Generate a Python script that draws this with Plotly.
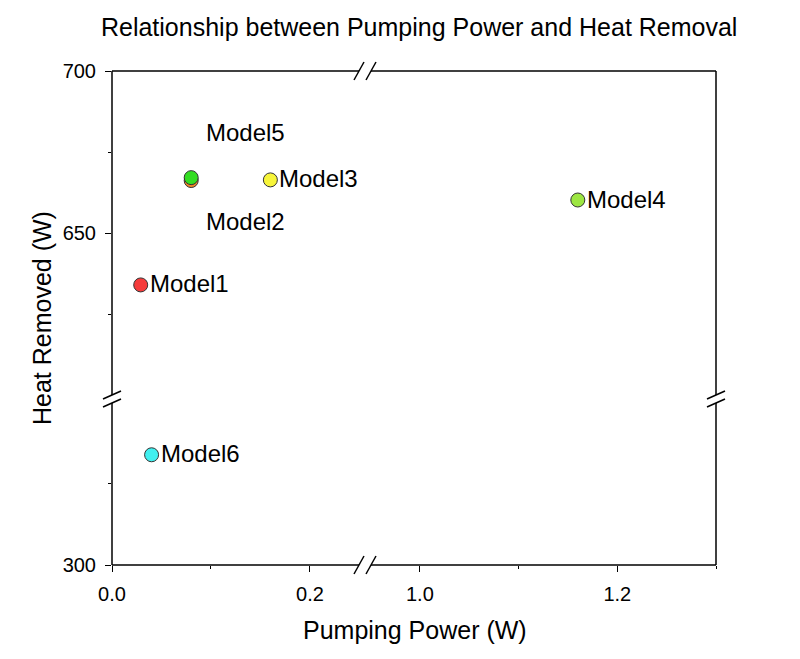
import plotly.graph_objects as go

# ---- data ----
models = ["Model1", "Model2", "Model3", "Model4", "Model5", "Model6"]
pumping_power = [0.029, 0.080, 0.160, 1.160, 0.080, 0.040]
heat_removed = [634.0, 666.2, 666.4, 660.2, 667.1, 334.0]
colors = ["#f53b3b", "#f0862a", "#f7f53a", "#9de642", "#33dd22", "#40f0f0"]
label_pos = ["right", "below", "right", "right", "above", "right"]

# broken-axis ranges
x_left_range = [0.0, 0.2556]
x_right_range = [0.9444, 1.3]
y_low_range = [300.0, 351.2]
y_high_range = [598.8, 700.0]

PLOT_L, PLOT_R, PLOT_T, PLOT_B = 112, 716, 71, 565
W, H = 800, 659
pw, ph = PLOT_R - PLOT_L, PLOT_B - PLOT_T
xb = (365 - PLOT_L) / pw   # x break (paper)
yb = (PLOT_B - 399) / ph   # y break (paper)

FONT = "Liberation Sans, Arial"
fig = go.Figure()

for i in [1, 0, 2, 3, 4, 5]:
    xa = "x2" if pumping_power[i] > 0.5 else "x"
    ya = "y" if heat_removed[i] < 500 else "y2"
    fig.add_trace(go.Scatter(
        x=[pumping_power[i]], y=[heat_removed[i]], xaxis=xa, yaxis=ya,
        mode="markers", showlegend=False,
        marker=dict(size=14, color=colors[i], line=dict(color="#333333", width=1)),
    ))
    if label_pos[i] == "right":
        fig.add_annotation(x=pumping_power[i], y=heat_removed[i], xref=xa, yref=ya,
                           text=models[i], showarrow=False, xanchor="left",
                           xshift=7, yshift=1, font=dict(size=24, color="black", family=FONT))
    else:
        ys = 45 if label_pos[i] == "above" else -41
        fig.add_annotation(x=pumping_power[i], y=heat_removed[i], xref=xa, yref=ya,
                           text=models[i], showarrow=False, xanchor="center",
                           xshift=54, yshift=ys, font=dict(size=24, color="black", family=FONT))

tickfont = dict(size=20, color="black", family=FONT)
common = dict(showline=False, zeroline=False, showgrid=False, ticks="outside",
              ticklen=6, tickwidth=1.2, tickcolor="black", tickfont=tickfont,
              ticklabelstandoff=5)

fig.update_layout(
    width=W, height=H,
    margin=dict(l=PLOT_L, r=W - PLOT_R, t=PLOT_T, b=H - PLOT_B),
    paper_bgcolor="white", plot_bgcolor="white",
    font=dict(family=FONT, color="black"),
    title=dict(text="Relationship between Pumping Power and Heat Removal",
               x=0.524, xref="container", xanchor="center",
               y=1 - 27 / H, yref="container", yanchor="middle",
               font=dict(size=25, color="black", family=FONT)),
    xaxis=dict(domain=[0, xb], range=x_left_range, anchor="y",
               tickvals=[0.0, 0.2], ticktext=["0.0", "0.2"],
               minor=dict(tickvals=[0.1], ticks="outside", ticklen=3, tickcolor="black"),
               **common),
    xaxis2=dict(domain=[xb, 1], range=x_right_range, anchor="y",
                tickvals=[1.0, 1.2], ticktext=["1.0", "1.2"],
                minor=dict(tickvals=[1.1, 1.3], ticks="outside", ticklen=3, tickcolor="black"),
                **common),
    yaxis=dict(domain=[0, yb], range=y_low_range, anchor="x",
               tickvals=[300], ticktext=["300"],
               minor=dict(tickvals=[325], ticks="outside", ticklen=3, tickcolor="black"),
               **common),
    yaxis2=dict(domain=[yb, 1], range=y_high_range, anchor="x",
                tickvals=[650, 700], ticktext=["650", "700"],
                minor=dict(tickvals=[625, 675], ticks="outside", ticklen=3, tickcolor="black"),
                **common),
)

# axis titles
fig.add_annotation(text="Pumping Power (W)", xref="paper", yref="paper",
                   x=(415 - PLOT_L) / pw, y=-(630 - PLOT_B) / ph,
                   showarrow=False, xanchor="center", yanchor="middle",
                   font=dict(size=25, color="black", family=FONT))
fig.add_annotation(text="Heat Removed (W)", xref="paper", yref="paper",
                   x=-(PLOT_L - 42) / pw, y=(PLOT_B - 318) / ph, textangle=-90,
                   showarrow=False, xanchor="center", yanchor="middle",
                   font=dict(size=25, color="black", family=FONT))

# frame with breaks
gx = 6 / pw
gy = 4 / ph
lw = 1.5
shapes = []
def seg(x0, y0, x1, y1):
    shapes.append(dict(type="line", xref="paper", yref="paper",
                       x0=x0, y0=y0, x1=x1, y1=y1,
                       line=dict(color="black", width=lw)))
# bottom & top
for yy in (0, 1):
    seg(0, yy, xb - gx, yy)
    seg(xb + gx, yy, 1, yy)
# left & right
for xx in (0, 1):
    seg(xx, 0, xx, yb - gy)
    seg(xx, yb + gy, xx, 1)
# break slashes on x (top and bottom)
sdx, sdy = 5 / pw, 9 / ph
for yy in (0, 1):
    for c in (xb - gx, xb + gx):
        seg(c - sdx, yy - sdy, c + sdx, yy + sdy)
# break slashes on y (left and right)
tdx, tdy = 9 / pw, 4 / ph
for xx in (0, 1):
    for c in (yb - gy, yb + gy):
        seg(xx - tdx, c - tdy, xx + tdx, c + tdy)
fig.update_layout(shapes=shapes)

fig.write_html("out.html")
